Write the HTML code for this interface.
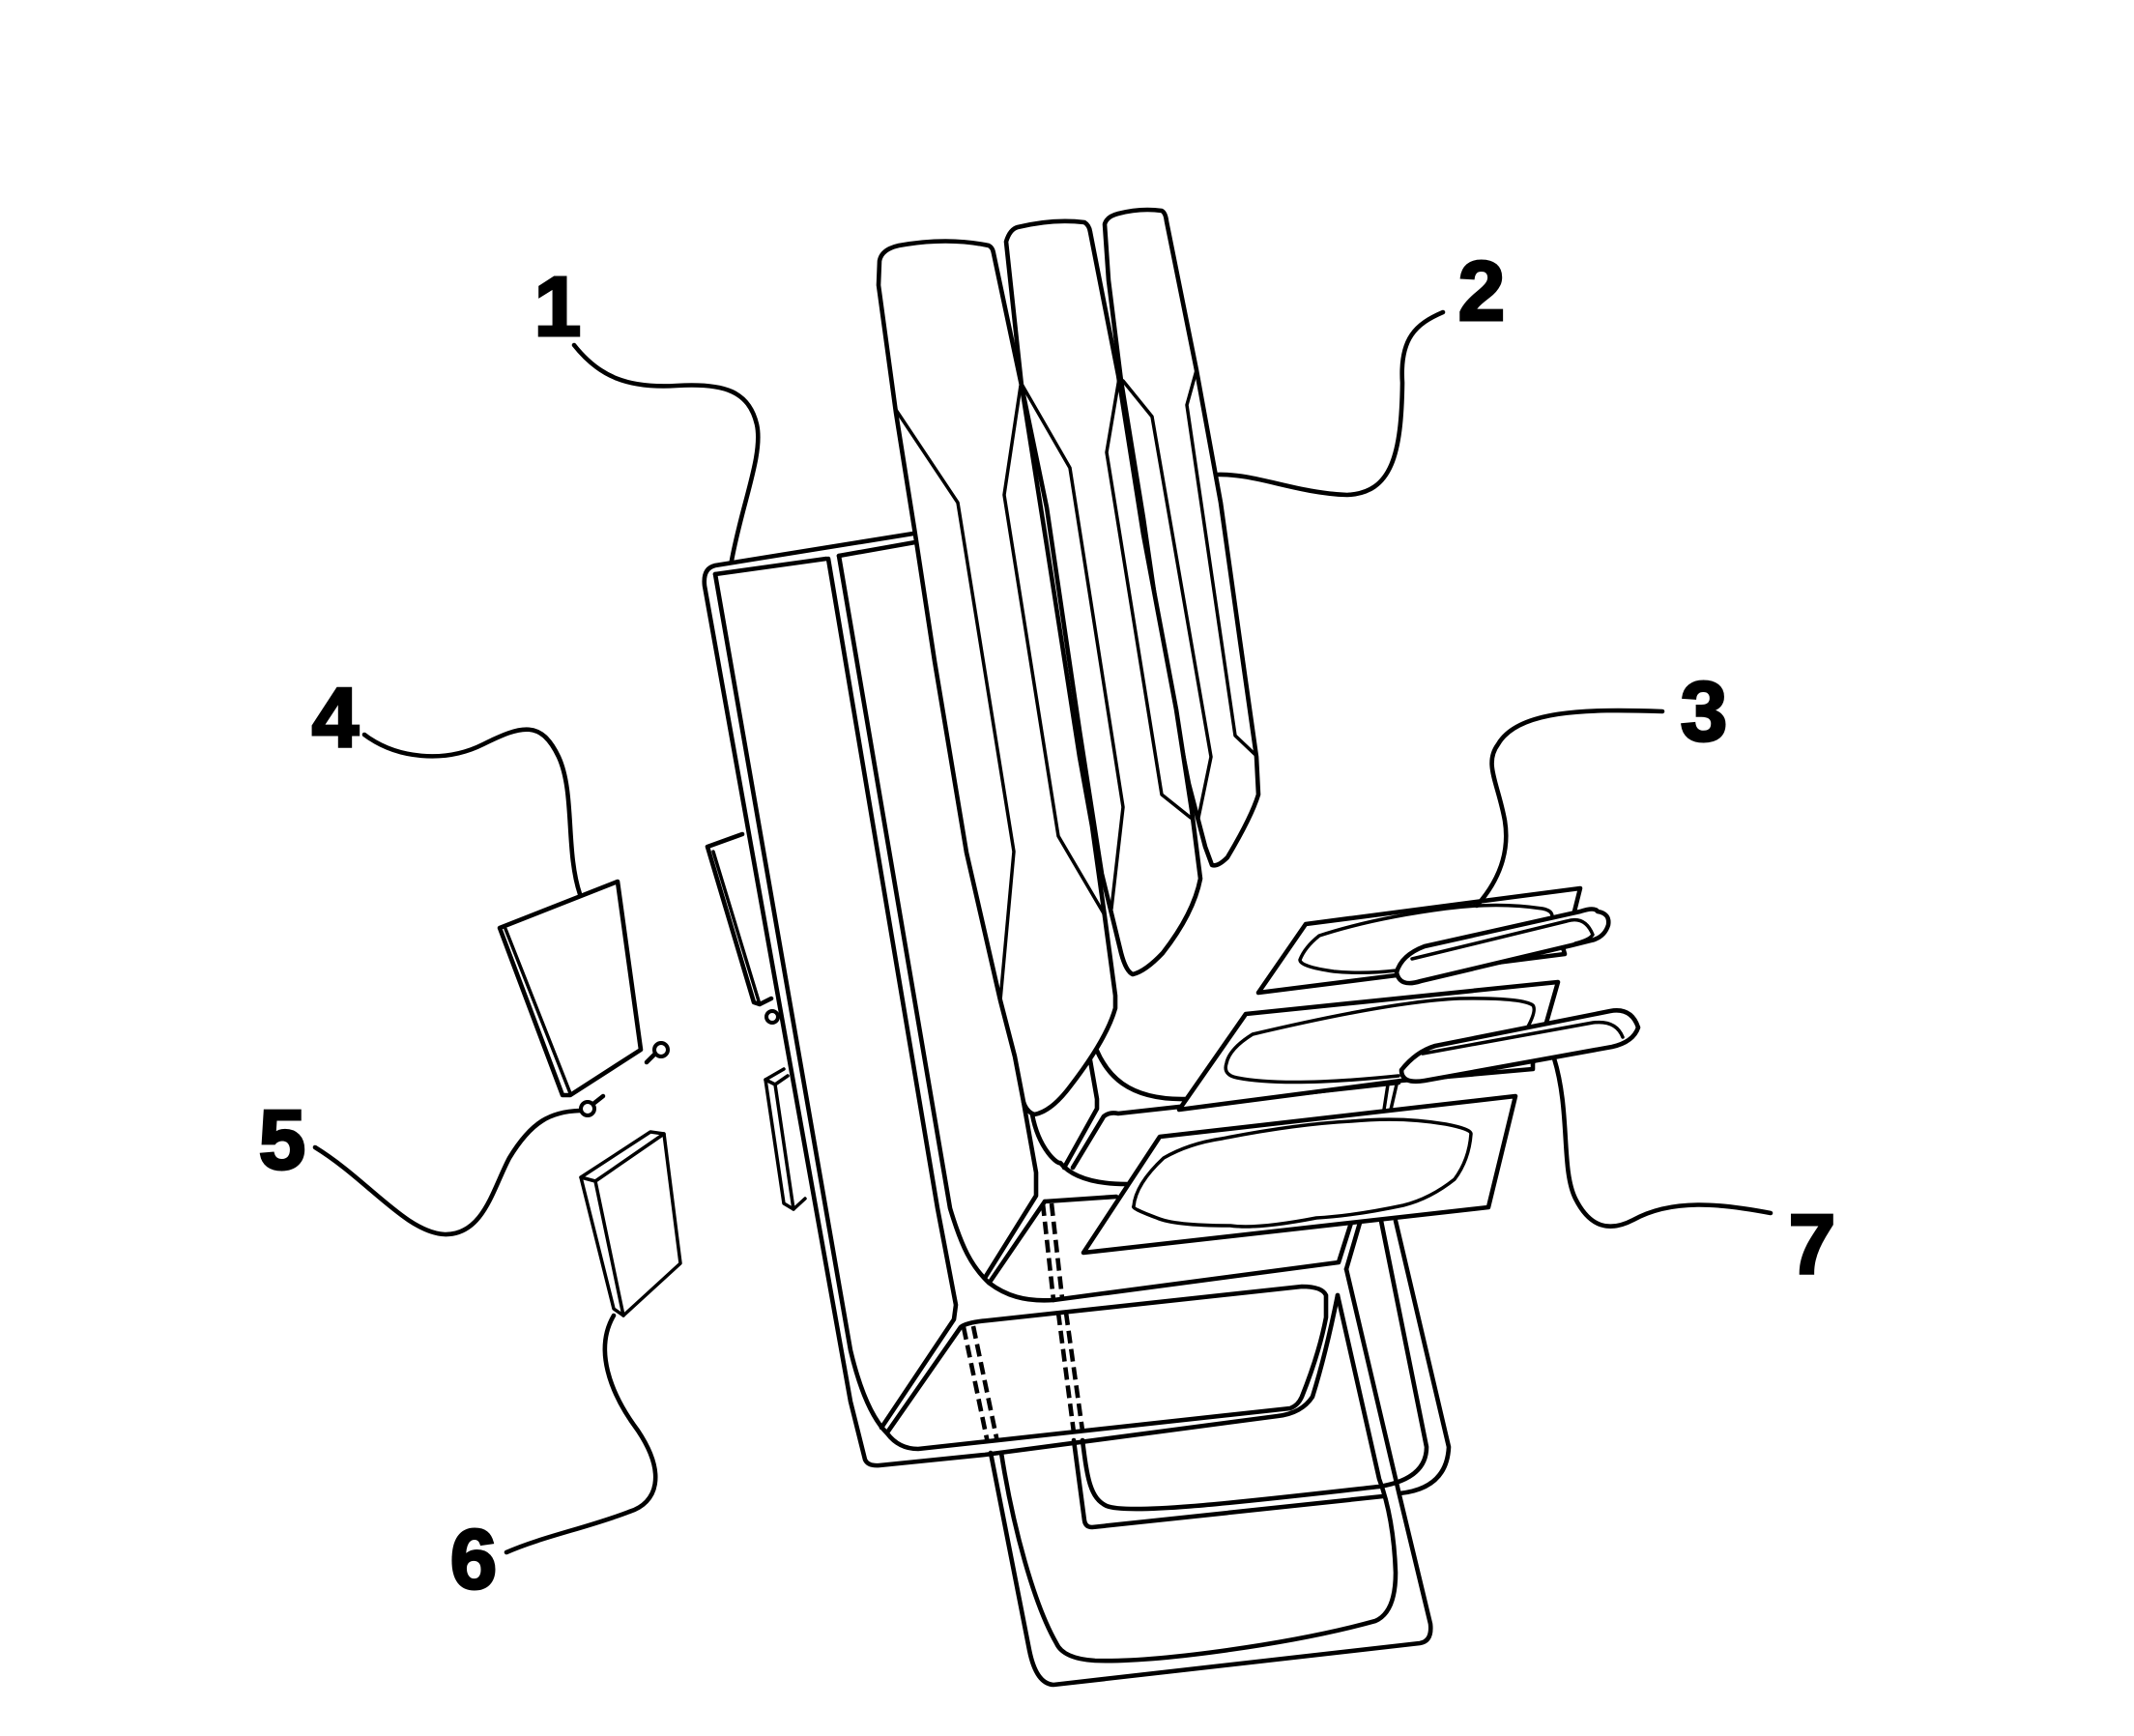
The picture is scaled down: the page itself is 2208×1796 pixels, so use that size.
<!DOCTYPE html>
<html><head><meta charset="utf-8"><style>html,body{margin:0;padding:0;background:#fff}svg{display:block}text{font-family:"Liberation Sans",sans-serif;font-weight:bold;font-size:87px;text-anchor:middle;fill:#000;stroke:#000;stroke-width:3}</style></head>
<body>
<svg width="2208" height="1796" viewBox="0 0 2208 1796" xmlns="http://www.w3.org/2000/svg">
<g fill="none" stroke="#000" stroke-width="4.6" stroke-linejoin="round" stroke-linecap="round">
<!-- back legs -->
<path d="M1036 1503C1048 1580 1070 1660 1093 1700Q1100 1716 1133 1718C1200 1720 1340 1700 1423 1677Q1444 1668 1444 1627Q1442 1570 1427 1530L1384 1340"/>
<path d="M1025 1503L1065 1707Q1072 1742 1090 1743L1469 1700Q1482 1698 1480 1680L1448 1547L1393 1313"/>
<path d="M1111 1490L1122 1573Q1123 1580 1130 1580L1431 1548"/>
<path d="M1120 1490C1125 1530 1128 1550 1145 1558C1170 1568 1300 1552 1427 1538Q1476 1530 1476 1497L1429 1263"/>
<path d="M1448 1545Q1497 1540 1499 1497L1444 1263"/>
<path d="M1398 1265L1385 1306L1090 1345"/>
<path d="M1407 1265L1393 1313"/>
<!-- main panel -->
<path d="M945 552L740 585Q727 588 729 606L880 1450L895 1510Q898 1517 910 1516L1019 1505L1322 1465Q1347 1462 1358 1445Q1372 1400 1384 1340"/>
<path d="M740 594L855 578"/>
<path d="M740 594L880 1397Q895 1460 918 1483Q930 1499 950 1499L1335 1457Q1343 1454 1347 1445Q1365 1400 1372 1363L1372 1340Q1368 1331 1347 1331L1023 1366Q1000 1368 994 1373L918 1482"/>
<path d="M868 575L947 561"/>
<path d="M857 578L970 1250L989 1350L987 1365L912 1477"/>
<path d="M868 575L983 1250C995 1290 1005 1310 1023 1327C1040 1340 1060 1347 1090 1345"/>
<path d="M1059 1140L1072 1213L1072 1237L1019 1322"/>
<path d="M1081 1243L1025 1325"/>
<path d="M1081 1243L1155 1238"/>
<path d="M1068 1153C1075 1190 1095 1205 1097 1203Q1115 1225 1166 1225"/>
<path d="M1101 1208L1135 1147L1135 1137L1128 1097"/>
<path d="M1110 1208L1142 1155Q1148 1150 1157 1152L1447 1120"/>
<path d="M1135 1087C1145 1110 1165 1138 1226 1137"/>
<!-- dashed -->
<g stroke-dasharray="13 6" stroke-linecap="butt">
<path d="M997 1373L1022 1493M1007 1372L1032 1492M1095 1358L1111 1482M1103 1358L1120 1480M1079 1245L1090 1345M1088 1245L1099 1343"/>
</g>
<!-- attachments behind panel -->
<path d="M768 863L732 876L780 1037L786 1039L798 1033"/>
<path d="M738 881L786 1039" stroke-width="3.5"/>
<circle cx="799" cy="1052" r="6" stroke-width="4"/>
<path d="M811 1106L792 1117L811 1245L821 1251L833 1240" stroke-width="3.5"/>
<path d="M802 1122L821 1251M792 1117L802 1122L815 1113" stroke-width="3.5"/>
<!-- cushions -->
<g fill="#fff">
<path d="M1143 232Q1145 224 1157 221Q1180 215 1202 218Q1206 220 1207 229L1238 383L1263 520L1283 663L1300 783L1302 822Q1295 845 1270 887Q1260 897 1254 895L1247 876L1230 811L1203 674L1183 536L1160 394L1147 290Z"/>
<path d="M1041 250Q1045 237 1053 235Q1090 226 1122 230Q1127 233 1128 240L1157 388L1183 553L1217 734L1233 838L1242 909Q1235 945 1203 986Q1185 1005 1172 1008Q1165 1005 1160 986L1140 904L1117 756L1083 525L1057 399Z"/>
<path d="M910 270Q912 258 930 254Q980 245 1023 254Q1027 256 1028 262L1057 399L1083 564L1117 783L1130 855L1143 948L1154 1030L1154 1043Q1145 1075 1108 1123Q1088 1150 1070 1153Q1062 1150 1059 1140L1050 1093L1035 1035L1000 882L967 684L947 553L927 427L909 295Z"/>
</g>
<g stroke-width="3.5">
<path d="M927 424L991 520L1049 881L1035 1035"/>
<path d="M1056 399L1039 512L1095 865L1142 945"/>
<path d="M1058 399L1107 484L1162 835L1150 940"/>
<path d="M1238 383L1228 419L1278 761L1298 780"/>
<path d="M1158 391L1145 468L1202 822L1232 846"/>
<path d="M1162 394L1192 431L1253 783L1240 846"/>
</g>
<!-- plates -->
<g fill="#fff">
<path d="M1351 956L1635 919L1629 943L1617 980L1619 987L1445 1009L1302 1027Z"/>
<path d="M1289 1049L1612 1016L1600 1058L1586 1100L1586 1106L1450 1118L1220 1148Z"/>
<path d="M1200 1176L1568 1134L1540 1249L1121 1296Z"/>
</g>
<g stroke-width="3.5" fill="#fff">
<path d="M1606 948Q1606 942 1596 940Q1550 933 1496 940Q1420 950 1365 968Q1350 980 1345 993Q1345 1000 1380 1005Q1410 1008 1445 1004"/>
<path d="M1581 1062Q1590 1045 1586 1040Q1575 1032 1510 1033Q1440 1036 1296 1070Q1272 1085 1269 1100Q1265 1112 1280 1115Q1330 1125 1447 1113"/>
<path d="M1522 1173Q1520 1200 1505 1220Q1480 1240 1452 1247Q1400 1258 1362 1260Q1300 1272 1273 1268Q1215 1268 1197 1260Q1170 1250 1173 1248Q1175 1225 1204 1198Q1230 1183 1264 1178Q1340 1163 1398 1160Q1450 1155 1496 1163Q1522 1168 1522 1173Z"/>
</g>
<path d="M1436 1122L1432 1148M1445 1122L1439 1148" stroke-width="3.5"/>
<!-- handles -->
<g fill="#fff">
<path d="M1445 1006Q1450 988 1474 979L1635 943Q1650 938 1653 943Q1666 945 1664 957Q1660 970 1646 973L1626 978L1470 1015Q1448 1022 1445 1006Z"/>
<path d="M1450 1107Q1465 1088 1485 1082L1666 1046Q1688 1042 1695 1063Q1690 1078 1668 1083L1474 1118Q1450 1122 1450 1107Z"/>
</g>
<path d="M1461 992L1621 953Q1640 947 1648 967Q1645 972 1630 976" stroke-width="3.5"/>
<path d="M1472 1090L1648 1058Q1672 1055 1679 1073" stroke-width="3.5"/>
<!-- leaders -->
<path d="M757 580C768 520 790 470 783 439C775 405 750 396 700 399C650 402 620 390 594 357"/>
<path d="M1260 491C1300 490 1340 510 1394 512C1440 510 1450 470 1451 396C1448 350 1465 335 1493 323"/>
<path d="M1528 937C1552 910 1562 880 1557 849C1550 810 1535 790 1550 770C1570 735 1640 733 1720 736"/>
<path d="M377 760C410 785 460 790 500 770C540 750 560 745 578 783C595 820 585 880 600 925"/>
<path d="M326 1187C380 1220 420 1275 460 1277C500 1278 510 1230 527 1198C550 1160 570 1150 600 1149"/>
<path d="M635 1361C615 1395 630 1440 660 1480C690 1525 680 1555 651 1564C610 1580 560 1590 524 1606"/>
<path d="M1608 1095C1625 1150 1615 1210 1630 1240C1645 1270 1665 1275 1690 1262C1730 1240 1780 1245 1832 1255"/>
<!-- book 4 -->
<path d="M517 960L639 912L663 1086L590 1133L582 1133Z" fill="#fff"/>
<path d="M523 961L590 1131" stroke-width="3.5"/>
<circle cx="684" cy="1086" r="7" stroke-width="4"/>
<path d="M678 1090L669 1099M610 1145L624 1134" stroke-width="4.5"/>
<circle cx="608" cy="1147" r="7" stroke-width="4" fill="#fff"/>
<!-- book 6 -->
<path d="M601 1218L673 1171L687 1173L704 1307L645 1361L635 1354Z" fill="#fff" stroke-width="3.5"/>
<path d="M601 1218L616 1222L687 1173M616 1222L645 1361" stroke-width="3.5"/>
</g>
<text x="577" y="347">1</text>
<text x="1533" y="331">2</text>
<text x="1763" y="766">3</text>
<text x="347" y="772">4</text>
<text x="292" y="1209">5</text>
<text x="490" y="1643">6</text>
<text x="1875" y="1317">7</text>
</svg>
</body></html>
